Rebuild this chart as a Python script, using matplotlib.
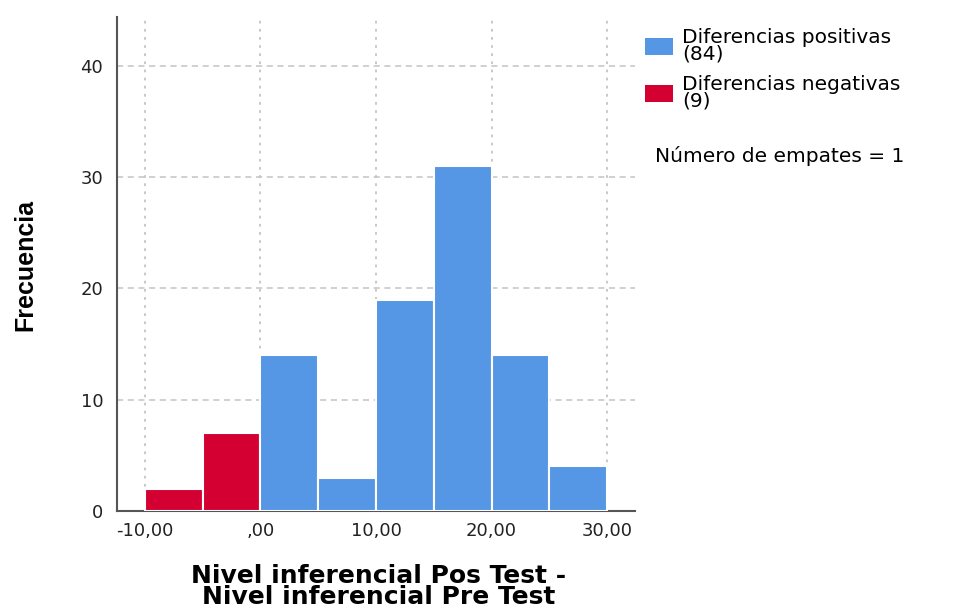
import matplotlib
matplotlib.use("Agg")
import matplotlib.pyplot as plt
from matplotlib.patches import Patch
from matplotlib import font_manager

plt.rcParams["font.family"] = ["DejaVu Sans"]

# histogram bins (width 5) and counts
neg_edges = [-10, -5]
neg_counts = [2, 7]
pos_edges = [0, 5, 10, 15, 20, 25]
pos_counts = [14, 3, 19, 31, 14, 4]
bin_width = 5

x_ticks = [-10, 0, 10, 20, 30]
x_ticklabels = ["-10,00", ",00", "10,00", "20,00", "30,00"]
y_ticks = [0, 10, 20, 30, 40]

pos_label = "Diferencias positivas\n(84)"
neg_label = "Diferencias negativas\n(9)"
ties_text = "Número de empates = 1"

BLUE = "#5596e5"
RED = "#d50032"


def narrow_font():
    try:
        font_manager.findfont("Liberation Sans Narrow", fallback_to_default=False)
        return "Liberation Sans Narrow", 22
    except ValueError:
        return "Liberation Sans", 18


def main():
    fig = plt.figure(figsize=(9.57, 6.11), dpi=100)
    ax = fig.add_axes([0.1223, 0.1637, 0.5412, 0.8085])

    ax.bar(neg_edges, neg_counts, width=bin_width, align="edge",
           color=RED, edgecolor="white", linewidth=1.5, zorder=3)
    ax.bar(pos_edges, pos_counts, width=bin_width, align="edge",
           color=BLUE, edgecolor="white", linewidth=1.5, zorder=3)

    ax.set_xlim(-12.42, 32.42)
    ax.set_ylim(0, 44.4)
    ax.set_xticks(x_ticks)
    ax.set_xticklabels(x_ticklabels)
    ax.set_yticks(y_ticks)
    ax.tick_params(length=0, labelsize=13, colors="#222222")
    ax.tick_params(axis="x", pad=8)
    ax.tick_params(axis="y", pad=10)

    ax.grid(axis="x", linestyle=(0, (1.5, 3)), color="#c4c4c4", linewidth=1.3, zorder=0)
    ax.grid(axis="y", linestyle=(0, (4, 3)), color="#c4c4c4", linewidth=1.1, zorder=0)

    for side in ["top", "right"]:
        ax.spines[side].set_visible(False)
    for side in ["left", "bottom"]:
        ax.spines[side].set_color("#555555")
        ax.spines[side].set_linewidth(1.5)

    ax.set_xlabel("Nivel inferencial Pos Test -\nNivel inferencial Pre Test",
                  fontsize=18, fontweight="bold", linespacing=0.85)
    ax.xaxis.set_label_coords(0.505, -0.107)

    fam, size = narrow_font()
    ax.set_ylabel("Frecuencia", fontsize=size, fontweight="bold", family=fam)
    ax.yaxis.set_label_coords(-0.153, 0.498)

    handles = [Patch(facecolor=BLUE, label=pos_label),
               Patch(facecolor=RED, label=neg_label)]
    leg = fig.legend(handles=handles, loc="upper left", bbox_to_anchor=(0.6657, 0.967),
                     frameon=False, fontsize=14.5, handlelength=1.4, handleheight=0.9,
                     handletextpad=0.45, labelspacing=0.55, borderaxespad=0)
    for t in leg.get_texts():
        t.set_linespacing(0.85)
    fig.text(0.684, 0.745, ties_text, fontsize=14.5, va="center", ha="left")

    fig.savefig("out.png", dpi=100)


if __name__ == "__main__":
    main()
